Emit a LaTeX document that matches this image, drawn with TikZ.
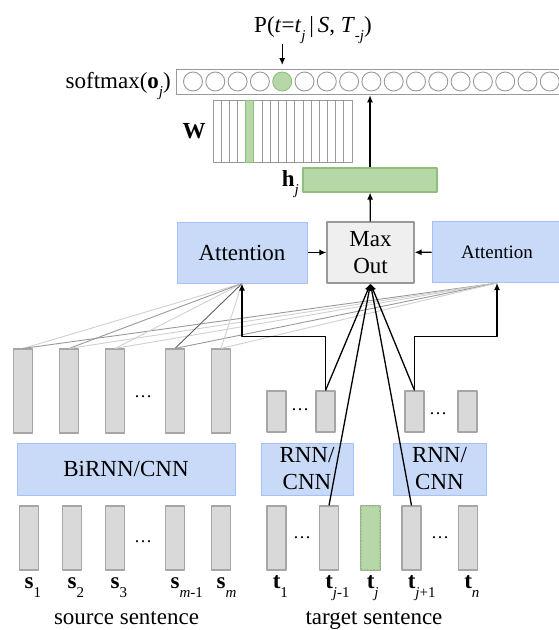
\documentclass[tikz,border=0pt]{standalone}
\usepackage{fontspec}
\setmainfont{Liberation Serif}
\usetikzlibrary{arrows.meta,calc}

\definecolor{cellgray}{HTML}{D9D9D9}
\definecolor{edgegray}{HTML}{A6A6A6}
\definecolor{boxblue}{HTML}{C9DAF8}
\definecolor{edgeblue}{HTML}{A4C2F4}
\definecolor{cellgreen}{HTML}{B6D7A8}
\definecolor{edgegreen}{HTML}{8DC07A}
\definecolor{maxgray}{HTML}{EFEFEF}
\definecolor{lightg}{HTML}{D0D0D0}
\definecolor{midg}{HTML}{999999}
\definecolor{darkg}{HTML}{606060}

% lowered index, used for all the subscripts
\newcommand{\subidx}[1]{\raisebox{-0.38em}{\fontsize{15}{15}\selectfont #1}}

\tikzset{
  cell/.style={draw=edgegray, fill=cellgray, line width=1.1pt, inner sep=0pt, minimum width=19pt},
  unit/.style={circle, draw=midg, line width=0.9pt, inner sep=0pt, minimum size=19pt},
  wline/.style={draw=midg, line width=0.9pt},
  enc/.style={draw=edgeblue, fill=boxblue, line width=1pt, inner sep=0pt, minimum height=52pt, align=center},
  att/.style={enc, minimum width=130pt, minimum height=61pt},
  maxbox/.style={draw=midg, fill=maxgray, line width=1.1pt, inner sep=0pt, minimum width=87pt, minimum height=61pt, align=center},
  conn/.style={line width=1.3pt},
  attline/.style={line width=0.9pt},
  dotsfont/.style={font=\fontsize{18}{18}\selectfont, inner sep=0pt},
}

\begin{document}
\begin{tikzpicture}[x=1pt, y=-1pt, >={Latex[length=7pt,width=6pt]}, line join=round,
  font=\fontsize{23}{27}\selectfont]
\useasboundingbox (0,0) rectangle (559,630);
\clip (0,0) rectangle (559,630);

% output distribution
\node[draw=midg, line width=1.3pt, inner sep=0pt, minimum width=420pt, minimum height=25pt, anchor=north west] (bar) at (176,69) {};
\foreach \k in {1,2,3,4,6,7,...,17}
  \node[unit] (o\k) at ({193+22.3*(\k-1)},81.5) {};
\node[unit, fill=cellgreen, draw=edgegreen] (o5) at ({193+22.3*4},81.5) {};
\node[anchor=base east, inner sep=0pt] (soft) at (171,88) {softmax(\textbf{o}\subidx{\textit{j}})};
\node[anchor=base, inner sep=0pt] (prob) at (313,32)
  {P(\textit{t}=\textit{t}\subidx{\textit{j}}\,|\,\textit{S}, \textit{T}\subidx{\textit{-j}})};
\draw[->, conn] (prob.south -| o5) -- (o5 |- bar.north) [shorten >=4pt];

% output weights
\node[inner sep=0pt, minimum width=139pt, minimum height=62pt, anchor=north west] (W) at (213,100) {};
\foreach \k in {0,...,16}
  \draw[wline] ($(W.north west)+({8.18*\k},0)$) rectangle ++(8.18,62);
\draw[wline, draw=edgegreen, fill=cellgreen] ($(W.north west)+({8.18*4},0)$) rectangle ++(8.18,62);
\node[font=\fontsize{23}{27}\selectfont\bfseries, inner sep=0pt] (wlab) at (194,131) {W};

% decoder state
\node[cell, fill=cellgreen, draw=edgegreen, minimum width=134pt, minimum height=24pt] (hj) at (370,180) {};
\node[anchor=base east, inner sep=0pt] (hlab) at (299,186) {\textbf{h}\subidx{\textit{j}}};

% attention + maxout
\node[att] (attL) at (242,252.5) {Attention};
\node[maxbox] (maxout) at (370.5,252.5) {Max\\Out};
\node[att, font=\fontsize{19}{23}\selectfont] (attR) at (497,252) {Attention};

% source side
\foreach \x [count=\i] in {23,69,115,175,221}
  \node[cell, minimum height=84pt] (h\i) at (\x,391) {};
\foreach \x [count=\i] in {29,72,115,175,221}
  \node[cell, minimum height=64pt] (s\i) at (\x,538) {};
\node[dotsfont] (dh) at (143,397) {\dots};
\node[dotsfont] (ds) at (143,542) {\dots};
\node[enc, minimum width=218pt] (bienc) at (126,469) {BiRNN/CNN};
\foreach \i/\ix in {1/1,2/2,3/3,4/{\textit{m}-1},5/\textit{m}}
  \node[anchor=base west, inner sep=0pt] (ls\i) at ($(s\i.south)+(-4.5,18)$) {\textbf{s}\subidx{\ix}};
\node[anchor=base, inner sep=0pt] (src) at (126.5,624) {source sentence};

% target side
\foreach \x [count=\i] in {276.5,325.5,414.5,467.5}
  \node[cell, minimum height=41pt] (u\i) at (\x,411.5) {};
\foreach \x [count=\i] in {276.5,329,370.5,411.5,468}
  \node[cell, minimum height=64pt] (t\i) at (\x,538) {};
\node[cell, fill=cellgreen, draw=edgegreen, dotted, minimum height=64pt] (t3) at (370.5,538) {};
\node[dotsfont] (du1) at (300,410) {\dots};
\node[dotsfont] (du2) at (438,414) {\dots};
\node[dotsfont] (dt1) at (302,538) {\dots};
\node[dotsfont] (dt2) at (440,538) {\dots};
\node[enc, minimum width=92pt] (rnnL) at (307,469) {RNN/\\CNN};
\node[enc, minimum width=93pt] (rnnR) at (439.5,469) {RNN/\\CNN};
\foreach \i/\ix in {1/1,2/{\textit{j}-1},3/\textit{j},4/{\textit{j}+1},5/\textit{n}}
  \node[anchor=base west, inner sep=0pt] (lt\i) at ($(t\i.south)+(-3.9,18)$) {\textbf{t}\subidx{\ix}};
\node[anchor=base, inner sep=0pt] (tgt) at (374,624) {target sentence};

% attention weights over the source states
\foreach \i/\cl/\cr in {1/lightg/midg,2/midg/lightg,3/lightg/lightg,4/darkg/midg,5/lightg/lightg} {
  \draw[attline, \cl] (h\i.north) -- (attL.south);
  \draw[attline, \cr] (h\i.north) -- (attR.south);
}

% decoder connections
\draw[->, conn] (u2.north) -- ++(0,-54) -| (attL.south);
\draw[->, conn] (u3.north) -- ++(0,-54) -| (attR.south);
\foreach \n in {u2,t2,t4,u3}
  \draw[->, conn] (\n.north) -- (maxout.south);
\draw[->, conn] (attL) -- (maxout);
\draw[->, conn] (attR) -- (maxout);
\draw[->, conn] (maxout) -- (hj);
\draw[->, conn] (hj) -- (hj |- bar.south);
\end{tikzpicture}
\end{document}
